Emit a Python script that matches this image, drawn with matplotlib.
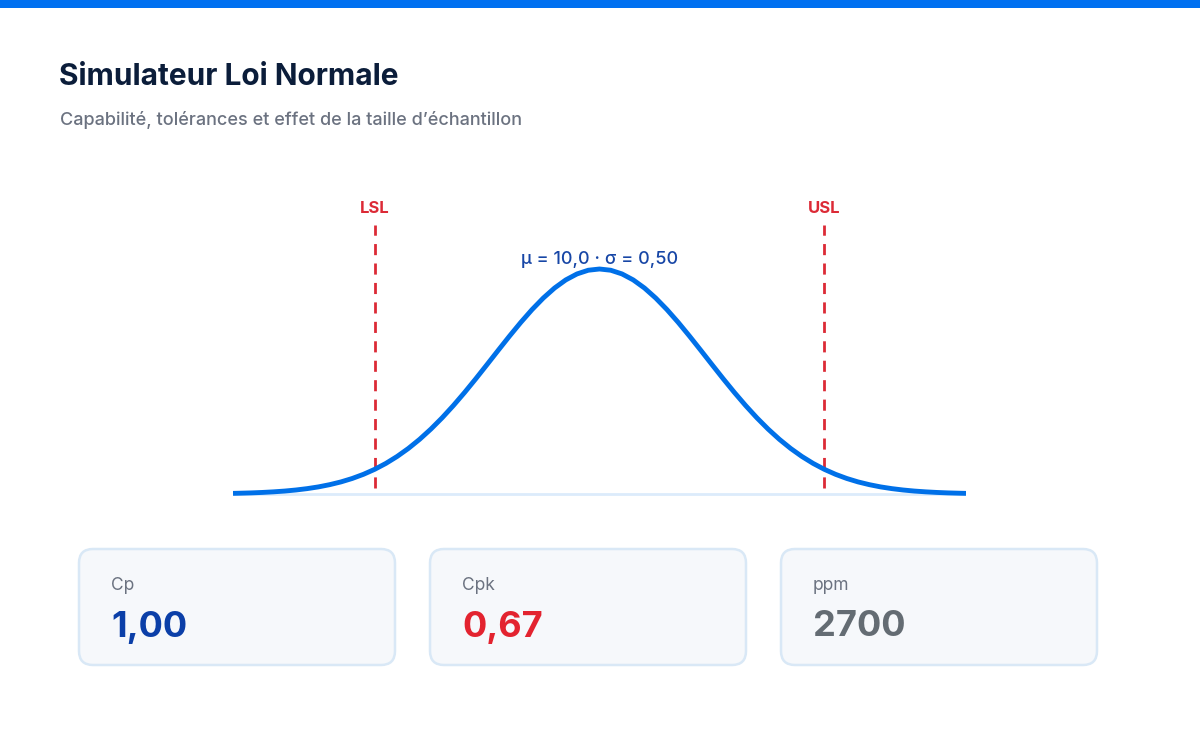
import matplotlib
matplotlib.use("Agg")
import matplotlib.pyplot as plt
from matplotlib.patches import FancyBboxPatch, Rectangle

plt.rcParams["font.family"] = ["Inter", "DejaVu Sans"]

# --- data -------------------------------------------------------------
title = "Simulateur Loi Normale"
subtitle = "Capabilité, tolérances et effet de la taille d’échantillon"
curve_x = [8.37, 8.40, 8.45, 8.50, 8.55, 8.60, 8.65, 8.70, 8.75, 8.80, 8.85, 8.90, 8.95,
           9.00, 9.05, 9.10, 9.15, 9.20, 9.25, 9.30, 9.35, 9.40, 9.45, 9.50, 9.55, 9.60,
           9.65, 9.70, 9.75, 9.80, 9.85, 9.90, 9.95, 10.00,
           10.05, 10.10, 10.15, 10.20, 10.25, 10.30, 10.35, 10.40, 10.45, 10.50, 10.55,
           10.60, 10.65, 10.70, 10.75, 10.80, 10.85, 10.90, 10.95, 11.00, 11.05, 11.10,
           11.15, 11.20, 11.25, 11.30, 11.35, 11.40, 11.45, 11.50, 11.55, 11.60, 11.63]
curve_y = [0.0028, 0.0035, 0.0049, 0.0069, 0.0096, 0.0131, 0.0178, 0.0239, 0.0316,
           0.0415, 0.0537, 0.0689, 0.0874, 0.1096, 0.1360, 0.1669, 0.2025, 0.2430,
           0.2884, 0.3385, 0.3930, 0.4512, 0.5124, 0.5755, 0.6392, 0.7021, 0.7628,
           0.8196, 0.8709, 0.9154, 0.9515, 0.9781, 0.9945, 1.0000,
           0.9945, 0.9781, 0.9515, 0.9154, 0.8709, 0.8196, 0.7628, 0.7021, 0.6392,
           0.5755, 0.5124, 0.4512, 0.3930, 0.3385, 0.2884, 0.2430, 0.2025, 0.1669,
           0.1360, 0.1096, 0.0874, 0.0689, 0.0537, 0.0415, 0.0316, 0.0239, 0.0178,
           0.0131, 0.0096, 0.0069, 0.0049, 0.0035, 0.0028]
lsl, usl = 9.0, 11.0
mu_label = "μ = 10,0 · σ = 0,50"
card_labels = ["Cp", "Cpk", "ppm"]
card_values = ["1,00", "0,67", "2700"]
card_colors = ["#0b3fa8", "#e3232f", "#646c73"]

W, H = 1200, 750
fig = plt.figure(figsize=(W / 100, H / 100), dpi=100)
bg = fig.add_axes([0, 0, 1, 1])
bg.set_xlim(0, W); bg.set_ylim(H, 0); bg.axis("off")

# top accent bar
bg.add_patch(Rectangle((0, 0), W, 8, color="#0070f0", lw=0))
bg.text(59, 77, title, fontsize=21.5, fontweight="bold", color="#0b1d3a", va="center")
bg.text(60, 120, subtitle, fontsize=13, fontweight="medium", color="#6b7280", va="center")

# chart axes: x 8.37..11.63 -> px 233..966 ; y 0 -> px 494, 1 -> px 269
x0, x1 = 233, 966
ytop, ybot = 180, 510
ax = fig.add_axes([x0 / W, 1 - ybot / H, (x1 - x0) / W, (ybot - ytop) / H])
ax.set_xlim(8.37, 11.63)
ax.set_ylim((494 - ybot) / 225, (494 - ytop) / 225)
ax.axis("off")
ax.plot([8.37, 11.63], [0, 0], color="#dcebfb", lw=2, solid_capstyle="butt", zorder=1)
for v, name in [(lsl, "LSL"), (usl, "USL")]:
    ax.plot([v, v], [(494 - 488) / 225, (494 - 225) / 225], color="#dc2a36", lw=2,
            dashes=(4, 3), zorder=2)
    ax.text(v, (494 - 208) / 225, name, color="#dc2a36", fontsize=12, fontweight="bold",
            ha="center", va="center")
ax.plot(curve_x, curve_y, color="#0070e8", lw=3.5, solid_capstyle="butt",
        solid_joinstyle="round", zorder=3)
ax.text(10.0, (494 - 259) / 225, mu_label, color="#1746a6", fontsize=13, ha="center",
        va="center", fontweight="medium")

# cards
for i, (lab, val, col) in enumerate(zip(card_labels, card_values, card_colors)):
    cx = 78 + i * 351
    bg.add_patch(FancyBboxPatch((cx + 1, 549), 316, 116,
                                boxstyle="round,pad=0,rounding_size=14",
                                facecolor="#f6f8fb", edgecolor="#d9e8f6", lw=1.8))
    bg.text(cx + 33, 586, lab, fontsize=12.5, color="#6b7280", va="center")
    bg.text(cx + 33, 627, val, fontsize=26, fontweight="bold", color=col, va="center")

fig.savefig("out.png", dpi=100)
